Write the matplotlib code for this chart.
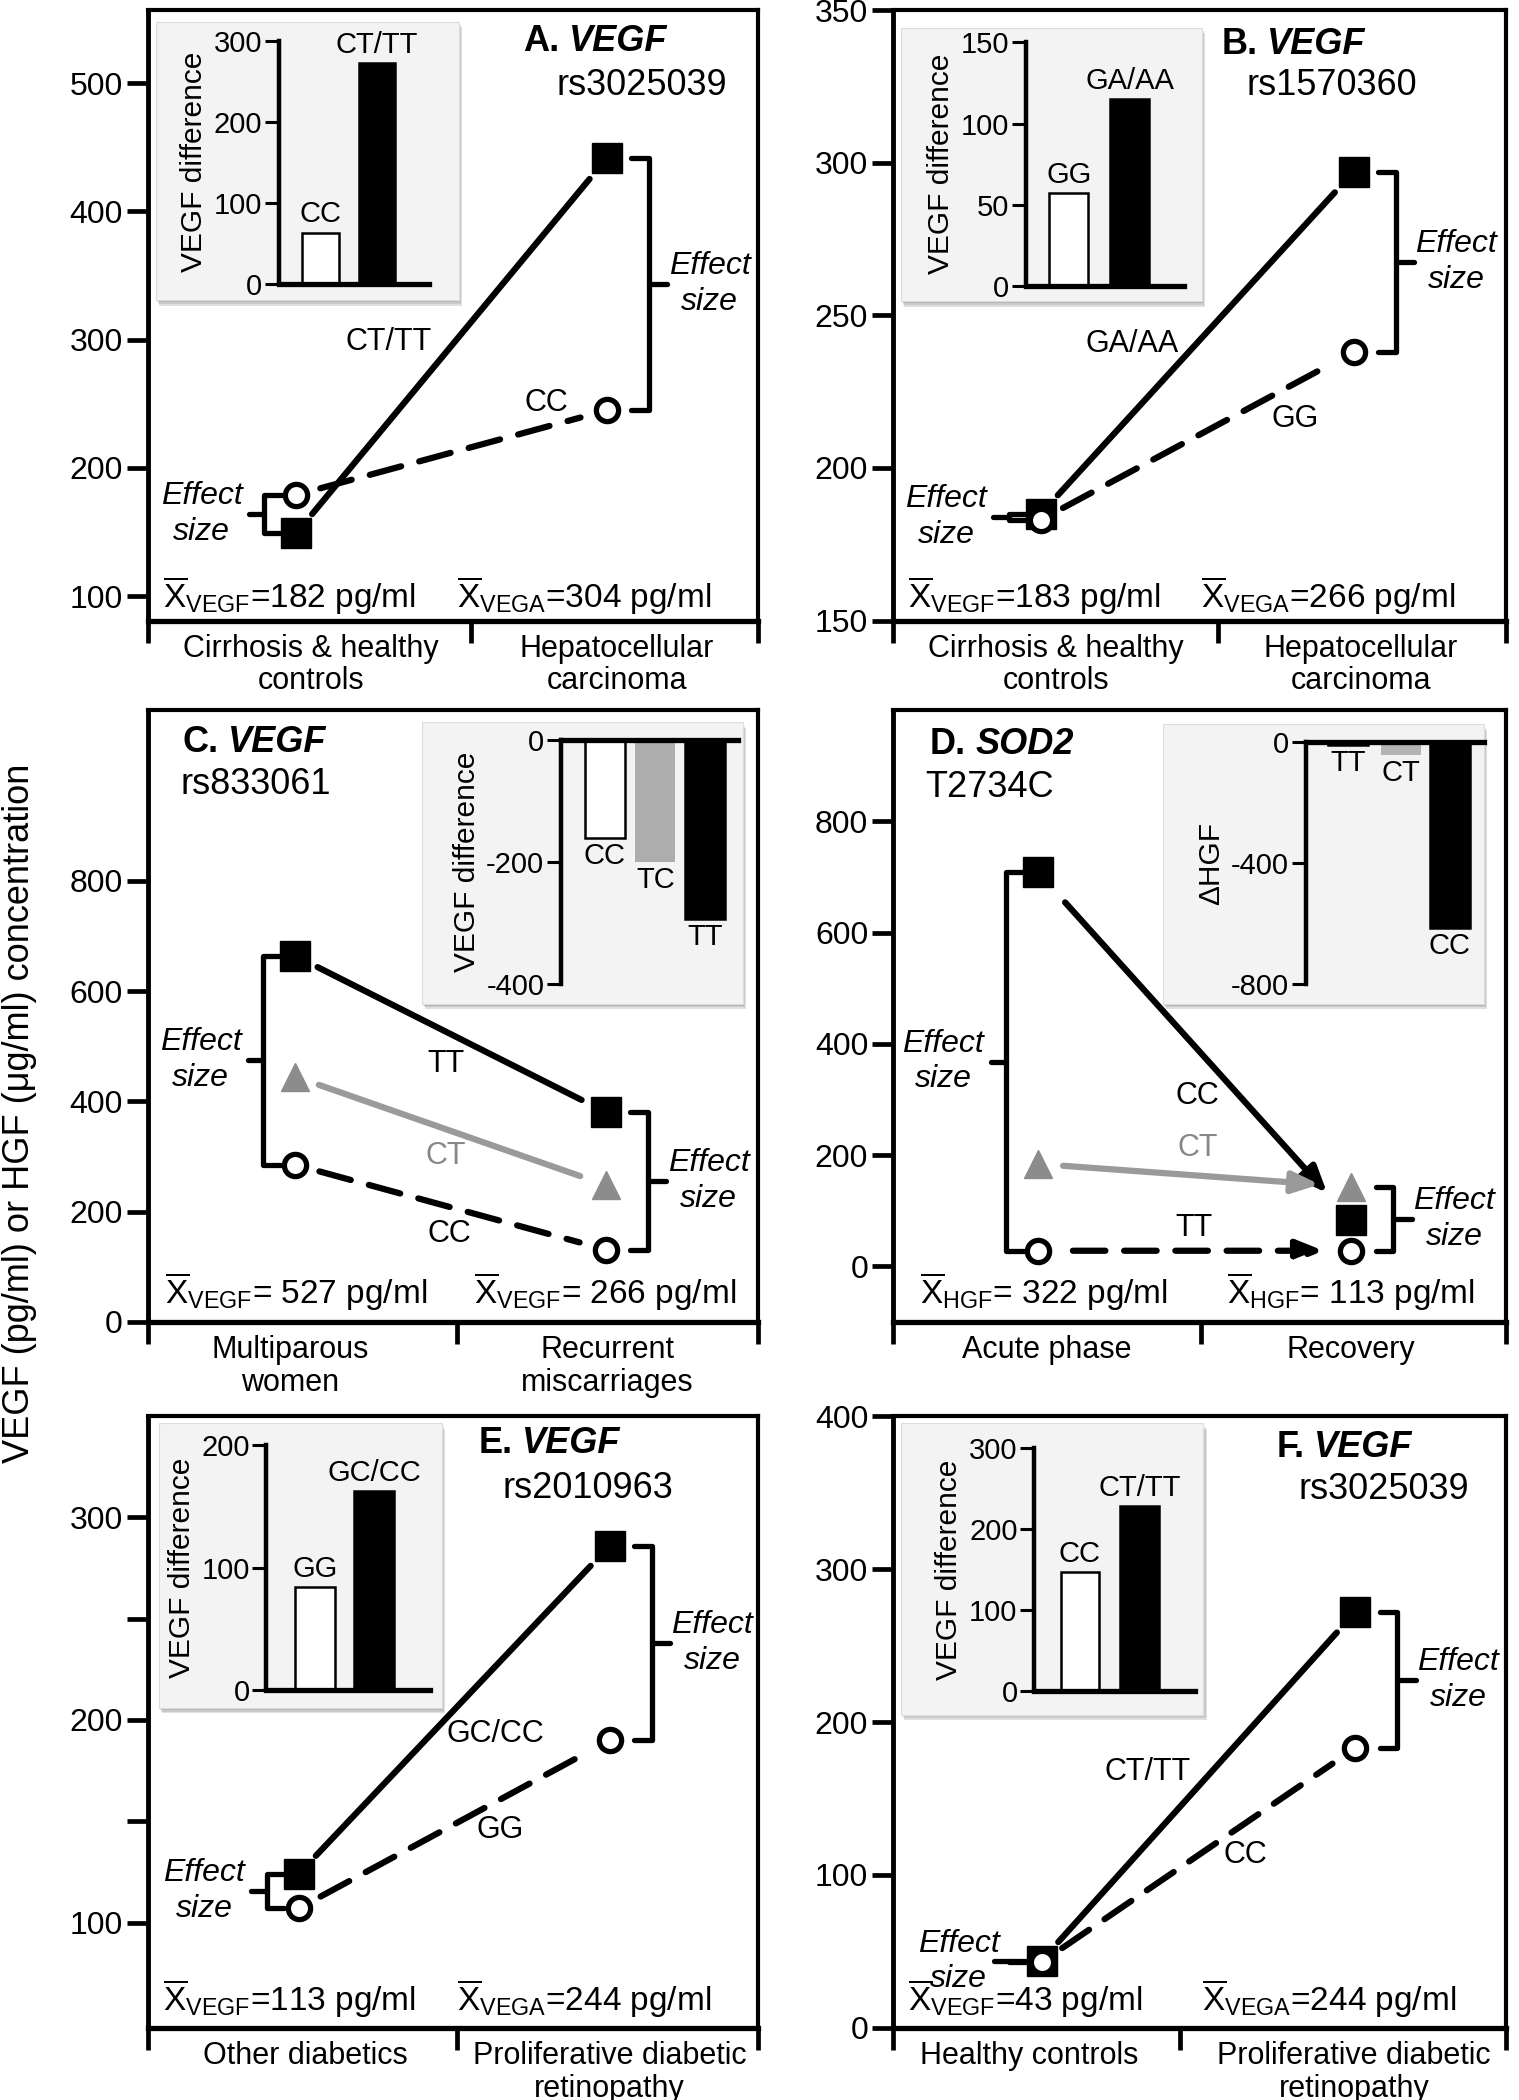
#!/usr/bin/env python3
"""Six-panel genotype x condition interaction plot (VEGF / SOD2 polymorphisms)."""
import matplotlib
matplotlib.use("Agg")
import matplotlib.pyplot as plt
from matplotlib.patches import FancyArrowPatch, Rectangle
from matplotlib.transforms import blended_transform_factory

plt.rcParams.update({
    "font.family": ["Liberation Sans", "DejaVu Sans"],
    "mathtext.fontset": "custom",
    "mathtext.rm": "Liberation Sans",
    "mathtext.it": "Liberation Sans:italic",
    "mathtext.bf": "Liberation Sans:bold",
    "axes.unicode_minus": False,
    "axes.linewidth": 3,
})

# ---- values ----
# A. VEGF rs3025039 (HCC)
A_GROUPS = ["Cirrhosis & healthy\ncontrols", "Hepatocellular\ncarcinoma"]
A_SQ = [149, 442]            # CT/TT
A_CI = [179, 245]            # CC
A_BAR_LABELS = ["CC", "CT/TT"]
A_BAR_VALS = [63, 272]
A_MEANS = [("VEGF", "=182 pg/ml"), ("VEGA", "=304 pg/ml")]
A_YTICKS = [100, 200, 300, 400, 500]

# B. VEGF rs1570360 (HCC)
B_GROUPS = ["Cirrhosis & healthy\ncontrols", "Hepatocellular\ncarcinoma"]
B_SQ = [185, 297]            # GA/AA
B_CI = [183, 238]            # GG
B_BAR_LABELS = ["GG", "GA/AA"]
B_BAR_VALS = [57, 115]
B_MEANS = [("VEGF", "=183 pg/ml"), ("VEGA", "=266 pg/ml")]
B_YTICKS = [150, 200, 250, 300, 350]

# C. VEGF rs833061 (miscarriage)
C_GROUPS = ["Multiparous\nwomen", "Recurrent\nmiscarriages"]
C_SQ = [664, 380]            # TT
C_TR = [445, 248]            # CT
C_CI = [285, 131]            # CC
C_BAR_LABELS = ["CC", "TC", "TT"]
C_BAR_VALS = [-161, -200, -294]
C_MEANS = [("VEGF", "= 527 pg/ml"), ("VEGF", "= 266 pg/ml")]
C_YTICKS = [0, 200, 400, 600, 800]

# D. SOD2 T2734C (HGF)
D_GROUPS = ["Acute phase", "Recovery"]
D_SQ = [708, 83]             # CC
D_TR = [184, 143]            # CT
D_CI = [28, 28]              # TT
D_BAR_LABELS = ["TT", "CT", "CC"]
D_BAR_VALS = [-8, -40, -615]
D_MEANS = [("HGF", "= 322 pg/ml"), ("HGF", "= 113 pg/ml")]
D_YTICKS = [0, 200, 400, 600, 800]

# E. VEGF rs2010963 (diabetic retinopathy)
E_GROUPS = ["Other diabetics", "Proliferative diabetic\nretinopathy"]
E_SQ = [124, 286]            # GC/CC
E_CI = [107, 190]            # GG
E_BAR_LABELS = ["GG", "GC/CC"]
E_BAR_VALS = [84, 163]
E_MEANS = [("VEGF", "=113 pg/ml"), ("VEGA", "=244 pg/ml")]
E_YTICKS = [100, 150, 200, 250, 300]
E_YTICKLABELS = ["100", "", "200", "", "300"]

# F. VEGF rs3025039 (diabetic retinopathy)
F_GROUPS = ["Healthy controls", "Proliferative diabetic\nretinopathy"]
F_SQ = [44, 272]             # CT/TT
F_CI = [43, 183]             # CC
F_BAR_LABELS = ["CC", "CT/TT"]
F_BAR_VALS = [147, 229]
F_MEANS = [("VEGF", "=43 pg/ml"), ("VEGA", "=244 pg/ml")]
F_YTICKS = [0, 100, 200, 300, 400]

GREY_LINE = "#9a9a9a"
GREY_MARK = "#8c8c8c"
SQ = dict(marker="s", ms=22, mfc="k", mec="k", mew=1)
CI = dict(marker="o", ms=16, mfc="white", mec="k", mew=3.8)
TR = dict(marker="^", ms=20, mfc=GREY_MARK, mec=GREY_MARK, mew=1)
DASH = (0, (5.2, 3.0))


def mean_label(sub, rest):
    return r"$\overline{\mathrm{X}}_{\mathrm{%s}}$%s" % (sub, rest)


def connect(ax, xs, vals, color, ls, arrow=False, shrink=(18, 20)):
    style = "-|>,head_length=0.8,head_width=0.32" if arrow else "-"
    ax.add_patch(FancyArrowPatch((xs[0], vals[0]), (xs[1], vals[1]),
                                 arrowstyle=style, mutation_scale=20,
                                 shrinkA=shrink[0], shrinkB=shrink[1],
                                 color=color, lw=4.5, linestyle=ls, zorder=2))


def bracket(ax, x, y0, y1, side, text_x):
    hook = -0.058 if side == "right" else 0.058
    nub = 0.06 if side == "right" else -0.05
    ax.plot([x + hook, x, x, x + hook], [y0, y0, y1, y1], color="k", lw=3.8,
            solid_joinstyle="round", solid_capstyle="round", zorder=3)
    mid = (y0 + y1) / 2
    ax.plot([x, x + nub], [mid, mid], color="k", lw=3.8,
            solid_capstyle="round", zorder=3)
    ax.text(text_x, mid, "Effect\nsize", style="italic", fontsize=23,
            ha="center", va="center", linespacing=1.25, zorder=4)


def inset(ax, bg, inner, labels, vals, colors, ylim, yticks, ylabel, xb, wb):
    for i, a in enumerate([0.10, 0.10, 0.12]):
        d = 0.003 * (i + 1)
        ax.add_patch(Rectangle((bg[0] + d * 0.6, bg[1] - d), bg[2], bg[3],
                               transform=ax.transAxes, fc="k", alpha=a,
                               ec="none", zorder=6))
    ax.add_patch(Rectangle((bg[0], bg[1]), bg[2], bg[3], transform=ax.transAxes,
                           fc="#f3f3f3", ec="#dddddd", lw=0.8, zorder=7))
    iax = ax.inset_axes(inner, zorder=8)
    iax.patch.set_alpha(0)
    iax.set_xlim(0, 1)
    iax.set_ylim(*ylim)
    neg = ylim[1] == 0
    for side in ("right", "bottom" if neg else "top"):
        iax.spines[side].set_visible(False)
    iax.spines["left"].set_linewidth(3.2)
    iax.spines["top" if neg else "bottom"].set_linewidth(3.8)
    iax.set_xticks([])
    iax.set_yticks(yticks)
    iax.tick_params(axis="y", direction="out", length=10, width=2.2,
                    labelsize=21, pad=2)
    iax.set_ylabel(ylabel, fontsize=21.5, labelpad=4)
    for x, v, c, lab in zip(xb, vals, colors, labels):
        ec = "none" if c not in ("white", "black") else "k"
        iax.bar(x, v, wb, color=c, edgecolor=ec, lw=1.8)
        iax.annotate(lab, (x, v), xytext=(0, -3 if neg else 3),
                     textcoords="offset points", ha="center",
                     va="top" if neg else "bottom", fontsize=21)


def panel(fig, rect, cfg):
    ax = fig.add_axes(rect)
    ax.set_xlim(0, 2)
    ax.set_ylim(*cfg["ylim"])
    xs = cfg["xs"]
    for s in cfg["series"]:
        connect(ax, xs, s["vals"], s["lc"], s["ls"], cfg.get("arrow", False),
                s.get("shrink", (18, 20)))
    for s in cfg["series"]:
        ax.plot(xs, s["vals"], ls="none", zorder=5, clip_on=False, **s["mk"])
        ax.text(*s["at"], s["label"], color=s.get("tc", "k"), fontsize=22,
                ha="center", va="center", zorder=4)

    # effect-size brackets
    left = [s["vals"][0] for s in cfg["series"]]
    right = [s["vals"][1] for s in cfg["series"]]
    bracket(ax, xs[1] + 0.137, max(right), min(right), "right", xs[1] + 0.335)
    bracket(ax, xs[0] - 0.105, max(left), min(left), "left",
            xs[0] - cfg.get("ltext", 0.31))

    # axes styling
    for sp in ax.spines.values():
        sp.set_linewidth(3)
    ax.spines["left"].set_linewidth(3.5)
    ax.spines["bottom"].set_linewidth(3.8)
    ax.set_yticks(cfg["yticks"])
    ax.set_yticklabels(cfg.get("yticklabels", [str(t) for t in cfg["yticks"]]))
    ax.tick_params(axis="y", direction="out", length=15, width=3.4,
                   labelsize=23, pad=3)
    ax.set_xticks([0, cfg["mid"], 2])
    ax.set_xticklabels([])
    ax.tick_params(axis="x", direction="out", length=16, width=3.4)
    tr = blended_transform_factory(ax.transData, ax.transAxes)
    for x, g in zip(cfg["gx"], cfg["groups"]):
        ax.text(x, -0.022, g, transform=tr, ha="center", va="top",
                fontsize=22, linespacing=1.1)

    # means
    for x, (sub, rest) in zip(cfg["mx"], cfg["means"]):
        ax.text(x, cfg["my"], mean_label(sub, rest), transform=ax.transAxes,
                ha="left", va="baseline", fontsize=24, zorder=4)

    # title
    tx, ty = cfg["title_at"]
    ax.text(tx, ty, cfg["letter"], transform=ax.transAxes, fontsize=26,
            weight="bold", ha="right", va="center", zorder=9)
    ax.annotate(cfg["gene"], (tx, ty), xycoords="axes fraction",
                xytext=(7, 0), textcoords="offset points", fontsize=26,
                weight="bold", style="italic", ha="left", va="center", zorder=9)
    sx, sy, sha = cfg["snp_at"]
    ax.text(sx, sy, cfg["snp"], transform=ax.transAxes, fontsize=26,
            ha=sha, va="center", zorder=9)

    inset(ax, *cfg["inset"])
    return ax


def main():
    fig = plt.figure(figsize=(15.19, 21.0), dpi=100)
    LX, LW = 0.0974, 0.4016
    RX, RW = 0.588, 0.4036
    rows = [(0.7045, 0.2907), (0.3705, 0.2914), (0.0343, 0.2914)]
    vd = "VEGF difference"

    cfgs = [
        dict(letter="A.", gene="VEGF", snp="rs3025039", title_at=(0.675, 0.949),
             snp_at=(0.809, 0.877, "center"), ylim=(81, 557), yticks=A_YTICKS,
             xs=[0.486, 1.506], mid=1.06, gx=[0.534, 1.538], groups=A_GROUPS,
             means=A_MEANS, mx=[0.024, 0.506], my=0.02,
             series=[dict(vals=A_SQ, mk=SQ, lc="k", ls="-", label="CT/TT", at=(0.789, 298)),
                     dict(vals=A_CI, mk=CI, lc="k", ls=DASH, label="CC", at=(1.307, 251))],
             inset=([0.0135, 0.525, 0.4965, 0.456], [0.215, 0.552, 0.245, 0.398],
                    A_BAR_LABELS, A_BAR_VALS, ["white", "black"], (0, 300),
                    [0, 100, 200, 300], vd, [0.277, 0.655], 0.246)),
        dict(letter="B.", gene="VEGF", snp="rs1570360", title_at=(0.594, 0.943),
             snp_at=(0.715, 0.877, "center"), ylim=(150, 350), yticks=B_YTICKS,
             xs=[0.482, 1.502], mid=1.059, gx=[0.53, 1.526], groups=B_GROUPS,
             means=B_MEANS, mx=[0.024, 0.502], my=0.02,
             series=[dict(vals=B_SQ, mk=SQ, lc="k", ls="-", label="GA/AA", at=(0.779, 240.5)),
                     dict(vals=B_CI, mk=CI, lc="k", ls=DASH, label="GG", at=(1.312, 216))],
             inset=([0.012, 0.523, 0.492, 0.448], [0.216, 0.548, 0.259, 0.399],
                    B_BAR_LABELS, B_BAR_VALS, ["white", "black"], (0, 150),
                    [0, 50, 100, 150], vd, [0.272, 0.654], 0.245)),
        dict(letter="C.", gene="VEGF", snp="rs833061", title_at=(0.116, 0.947),
             snp_at=(0.053, 0.878, "left"), ylim=(0, 1110), yticks=C_YTICKS,
             xs=[0.483, 1.503], mid=1.012, gx=[0.467, 1.506], groups=C_GROUPS,
             means=C_MEANS, mx=[0.028, 0.534], my=0.03,
             series=[dict(vals=C_SQ, mk=SQ, lc="k", ls="-", label="TT", at=(0.977, 467)),
                     dict(vals=C_TR, mk=TR, lc=GREY_LINE, ls="-", label="CT",
                          at=(0.977, 301), tc="#888888"),
                     dict(vals=C_CI, mk=CI, lc="k", ls=DASH, label="CC", at=(0.988, 160))],
             inset=([0.449, 0.52, 0.526, 0.46], [0.677, 0.553, 0.291, 0.398],
                    C_BAR_LABELS, C_BAR_VALS, ["white", "#adadad", "black"], (-400, 0),
                    [0, -200, -400], vd, [0.247, 0.532, 0.81], 0.225)),
        dict(letter="D.", gene="SOD2", snp="T2734C", title_at=(0.119, 0.944),
             snp_at=(0.052, 0.874, "left"), ylim=(-100, 1000), yticks=D_YTICKS,
             xs=[0.473, 1.495], mid=1.003, gx=[0.5, 1.492], groups=D_GROUPS,
             means=D_MEANS, mx=[0.044, 0.544], my=0.03, arrow=True,
             series=[dict(vals=D_SQ, mk=SQ, lc="k", ls="-", label="CC", at=(0.992, 306),
                          shrink=(29, 26)),
                     dict(vals=D_TR, mk=TR, lc=GREY_LINE, ls="-", label="CT",
                          at=(0.992, 212), tc="#888888", shrink=(18, 23)),
                     dict(vals=D_CI, mk=CI, lc="k", ls=DASH, label="TT", at=(0.98, 68),
                          shrink=(25, 20))],
             inset=([0.44, 0.52, 0.524, 0.457], [0.673, 0.552, 0.291, 0.395],
                    D_BAR_LABELS, D_BAR_VALS, ["white", "#b3b3b3", "black"], (-800, 0),
                    [0, -400, -800], "\u0394HGF", [0.237, 0.534, 0.807], 0.223)),
        dict(letter="E.", gene="VEGF", snp="rs2010963", title_at=(0.598, 0.955),
             snp_at=(0.721, 0.881, "center"), ylim=(48, 350), yticks=E_YTICKS,
             yticklabels=E_YTICKLABELS,
             xs=[0.494, 1.514], mid=1.012, gx=[0.515, 1.514], groups=E_GROUPS,
             means=E_MEANS, mx=[0.024, 0.506], my=0.027,
             series=[dict(vals=E_SQ, mk=SQ, lc="k", ls="-", label="GC/CC", at=(1.139, 193)),
                     dict(vals=E_CI, mk=CI, lc="k", ls=DASH, label="GG", at=(1.155, 145.5))],
             inset=([0.018, 0.523, 0.464, 0.465], [0.194, 0.552, 0.269, 0.40],
                    E_BAR_LABELS, E_BAR_VALS, ["white", "black"], (0, 200),
                    [0, 100, 200], vd, [0.297, 0.659], 0.243)),
        dict(letter="F.", gene="VEGF", snp="rs3025039", title_at=(0.671, 0.949),
             snp_at=(0.80, 0.88, "center"), ylim=(0, 400), yticks=F_YTICKS,
             xs=[0.484, 1.508], mid=0.937, gx=[0.444, 1.503], groups=F_GROUPS,
             means=F_MEANS, mx=[0.024, 0.503], my=0.028, ltext=0.27,
             series=[dict(vals=F_SQ, mk=SQ, lc="k", ls="-", label="CT/TT", at=(0.83, 167)),
                     dict(vals=F_CI, mk=CI, lc="k", ls=DASH, label="CC", at=(1.148, 113))],
             inset=([0.012, 0.512, 0.494, 0.476], [0.23, 0.551, 0.262, 0.396],
                    F_BAR_LABELS, F_BAR_VALS, ["white", "black"], (0, 300),
                    [0, 100, 200, 300], vd, [0.285, 0.655], 0.24)),
    ]

    for i, cfg in enumerate(cfgs):
        b, h = rows[i // 2]
        rect = [LX, b, LW, h] if i % 2 == 0 else [RX, b, RW, h]
        panel(fig, rect, cfg)

    fig.text(0.013, 0.47, "VEGF (pg/ml) or HGF (\u03bcg/ml) concentration",
             rotation=90, ha="center", va="center", fontsize=26)
    fig.savefig("out.png", dpi=100)


if __name__ == "__main__":
    main()
